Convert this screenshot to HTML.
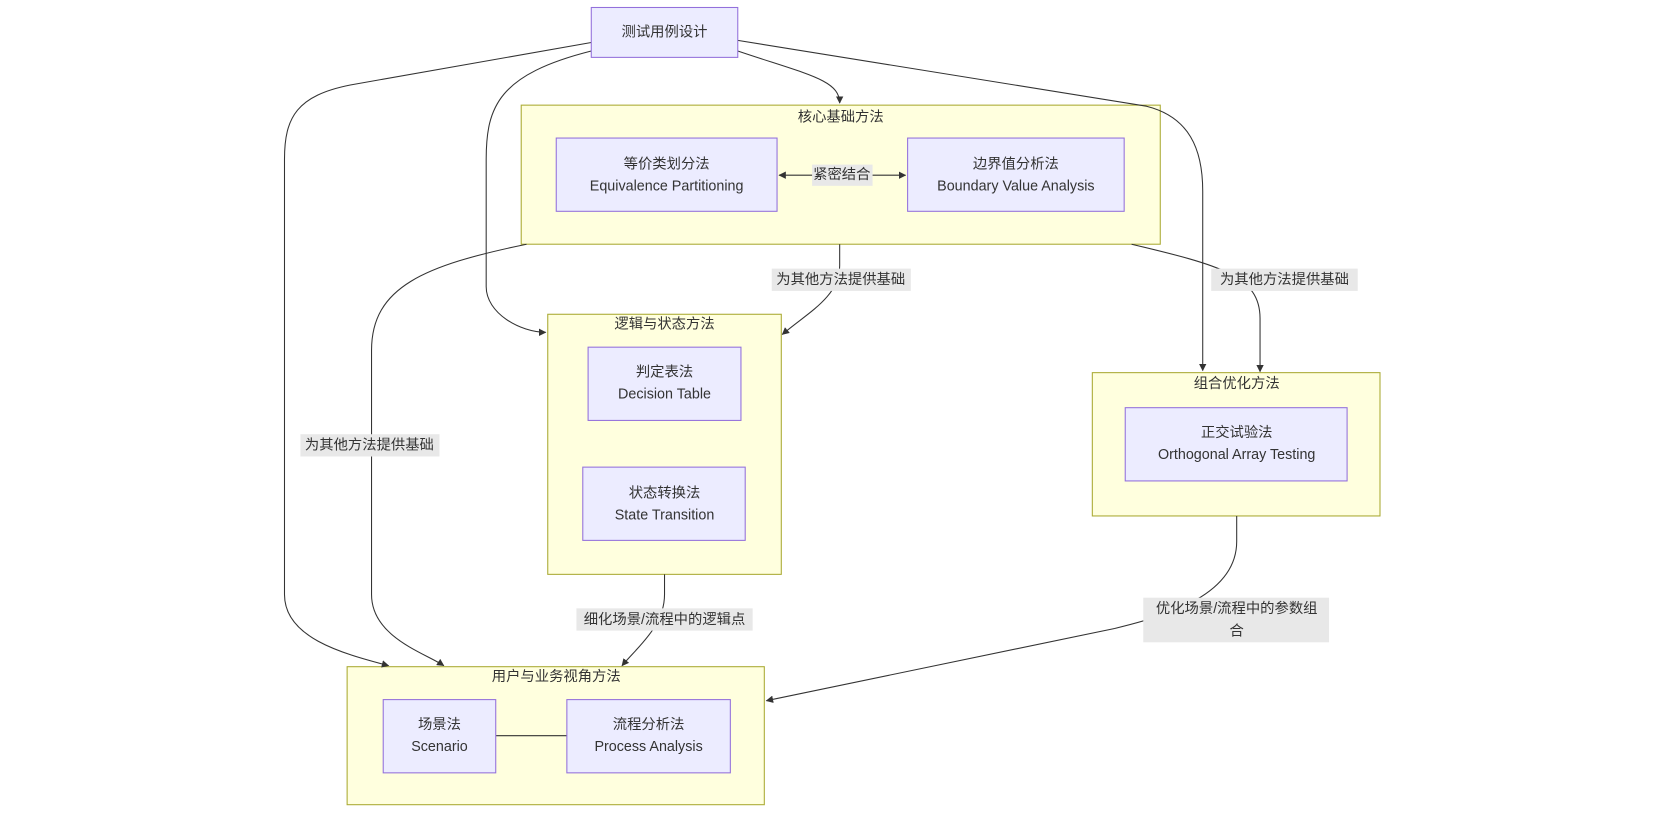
<!DOCTYPE html>
<html><head><meta charset="utf-8"><style>
html,body{margin:0;padding:0;background:#fff;}
svg text{font-family:"Liberation Sans","Noto Sans CJK SC",sans-serif;font-size:13.5px;fill:#333;}
</style></head><body>
<svg width="1656" height="809" viewBox="0 0 1560 762" xmlns="http://www.w3.org/2000/svg">
<defs>
<marker id="a" viewBox="0 0 10 10" refX="9" refY="5" markerWidth="7" markerHeight="7" orient="auto-start-reverse"><path d="M0,0L10,5L0,10z" fill="#333"/></marker>
</defs>
<g fill="#ffffde" stroke="#aaaa33" stroke-width="1">
<rect x="491" y="99" width="602" height="131"/>
<rect x="516" y="296" width="220" height="245"/>
<rect x="1029" y="351" width="271" height="135"/>
<rect x="327" y="628" width="393" height="130"/>
</g>
<g fill="none" stroke="#333" stroke-width="1">
<path d="M695,48 C760,70 791,75 791,97" marker-end="url(#a)"/>
<path d="M557,48 C470,70 458,100 458,150 L458,270 C458,295 490,313 514,313" marker-end="url(#a)"/>
<path d="M557,40 L330,80 C280,90 268,110 268,150 L268,560 C268,600 320,615 366,627" marker-end="url(#a)"/>
<path d="M695,38 L1080,100 C1120,110 1133,140 1133,180 L1133,349" marker-end="url(#a)"/>
<path d="M791,230 L791,250 C791,280 760,295 737,315" marker-end="url(#a)"/>
<path d="M1066,230 C1150,250 1187,260 1187,300 L1187,350" marker-end="url(#a)"/>
<path d="M496,230 C400,250 350,270 350,330 L350,560 C350,600 400,615 418,627" marker-end="url(#a)"/>
<path d="M626,541 L626,560 C626,590 600,610 586,627" marker-end="url(#a)"/>
<path d="M1165,486 L1165,510 C1165,560 1100,580 1050,592 L722,660" marker-end="url(#a)"/>
<path d="M734,165 L853,165" marker-start="url(#a)" marker-end="url(#a)"/>
<path d="M467,693 L534,693"/>
</g>
<g fill="#ececff" stroke="#9370db" stroke-width="1">
<rect x="557" y="7" width="138" height="47"/>
<rect x="524" y="130" width="208" height="69"/>
<rect x="855" y="130" width="204" height="69"/>
<rect x="554" y="327" width="144" height="69"/>
<rect x="549" y="440" width="153" height="69"/>
<rect x="1060" y="384" width="209" height="69"/>
<rect x="361" y="659" width="106" height="69"/>
<rect x="534" y="659" width="154" height="69"/>
</g>
<g fill="#e8e8e8">
<rect x="765" y="155" width="57" height="20"/>
<rect x="727" y="253" width="131" height="21"/>
<rect x="1141" y="253" width="138" height="21"/>
<rect x="283" y="409" width="131" height="21"/>
<rect x="543" y="573" width="166" height="21"/>
<rect x="1077" y="563" width="175" height="42"/>
</g>
<g text-anchor="middle" dominant-baseline="middle">
<text x="626" y="31">测试用例设计</text>
<text x="792" y="111">核心基础方法</text>
<text x="628" y="155">等价类划分法</text>
<text x="628" y="176">Equivalence Partitioning</text>
<text x="957" y="155">边界值分析法</text>
<text x="957" y="176">Boundary Value Analysis</text>
<text x="793" y="165">紧密结合</text>
<text x="626" y="306">逻辑与状态方法</text>
<text x="626" y="351">判定表法</text>
<text x="626" y="372">Decision Table</text>
<text x="626" y="465">状态转换法</text>
<text x="626" y="486">State Transition</text>
<text x="1165" y="362">组合优化方法</text>
<text x="1165" y="408">正交试验法</text>
<text x="1165" y="429">Orthogonal Array Testing</text>
<text x="524" y="638">用户与业务视角方法</text>
<text x="414" y="683">场景法</text>
<text x="414" y="704">Scenario</text>
<text x="611" y="683">流程分析法</text>
<text x="611" y="704">Process Analysis</text>
<text x="792" y="264">为其他方法提供基础</text>
<text x="1210" y="264">为其他方法提供基础</text>
<text x="348" y="420">为其他方法提供基础</text>
<text x="626" y="584">细化场景/流程中的逻辑点</text>
<text x="1165" y="574">优化场景/流程中的参数组</text>
<text x="1165" y="595">合</text>
</g>
</svg>
</body></html>
